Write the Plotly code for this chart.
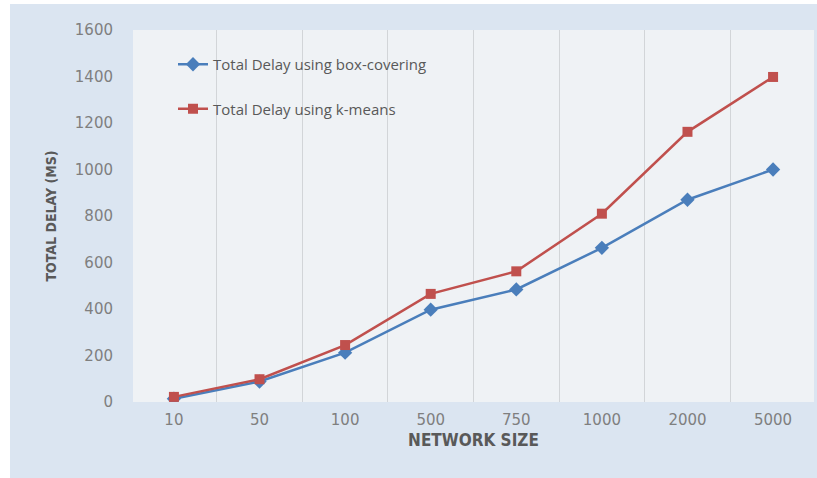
import plotly.graph_objects as go

# Network sizes (categorical x axis) and measured total delays in ms
network_sizes = ["10", "50", "100", "500", "750", "1000", "2000", "5000"]
delay_box_covering = [14, 88, 212, 397, 484, 663, 870, 1000]
delay_k_means = [22, 98, 245, 465, 562, 810, 1162, 1398]
y_ticks = [0, 200, 400, 600, 800, 1000, 1200, 1400, 1600]

W, H = 817, 478
L, R, T, B = 133, 3, 30, 76

BLUE = "#4a7ebb"
RED = "#c0504d"
CARD = "#dbe5f1"
TICK_GRAY = "#7f7f7f"
TITLE_GRAY = "#595959"
NARROW = "Liberation Sans Narrow, DejaVu Sans Condensed, Arial Narrow, sans-serif"

fig = go.Figure()
fig.add_trace(go.Scatter(
    x=network_sizes, y=delay_box_covering, mode="lines+markers",
    name="Total Delay using box-covering", legendgroup="box",
    line=dict(color=BLUE, width=2.5),
    marker=dict(symbol="diamond", size=11, color=BLUE),
))
fig.add_trace(go.Scatter(
    x=network_sizes, y=delay_k_means, mode="lines+markers",
    name="Total Delay using k-means", legendgroup="kmeans",
    line=dict(color=RED, width=2.5),
    marker=dict(symbol="square", size=10, color=RED),
))

# white margins around the light blue card (left strip and top strip)
pw, ph = W - L - R, H - T - B
fig.add_shape(type="rect", xref="paper", yref="paper", layer="below",
              x0=-L / pw, x1=(10 - L) / pw, y0=-B / ph, y1=(H - B) / ph,
              fillcolor="white", line=dict(width=0))
fig.add_shape(type="rect", xref="paper", yref="paper", layer="below",
              x0=-L / pw, x1=(W - L) / pw, y0=(H - B - 4) / ph, y1=(H - B) / ph,
              fillcolor="white", line=dict(width=0))

fig.update_layout(
    width=W, height=H,
    margin=dict(l=L, r=R, t=T, b=B, pad=0),
    paper_bgcolor=CARD,
    plot_bgcolor="#eff2f5",
    showlegend=True,
    legend=dict(
        x=(173 - L) / pw, xanchor="left",
        y=1 - (48 - T) / ph, yanchor="top",
        bgcolor="rgba(0,0,0,0)",
        font=dict(family="Open Sans, sans-serif", size=15, color=TITLE_GRAY),
        tracegroupgap=22,
        itemwidth=30,
    ),
    xaxis=dict(
        type="category",
        tickson="boundaries",
        showgrid=True, gridcolor="#d2d5d8", gridwidth=1,
        showline=False, zeroline=False, ticks="",
        tickfont=dict(family="DejaVu Sans, sans-serif", size=15, color=TICK_GRAY),
        ticklabelstandoff=7,
        title=dict(text="<b>NETWORK SIZE</b>",
                   font=dict(family=NARROW, size=17, color=TITLE_GRAY),
                   standoff=6),
    ),
    yaxis=dict(
        range=[0, 1600],
        tickvals=y_ticks,
        showgrid=False, zeroline=False, showline=False, ticks="",
        tickfont=dict(family="DejaVu Sans, sans-serif", size=15, color=TICK_GRAY),
        ticklabelstandoff=19,
        title=dict(text="<b>TOTAL DELAY (MS)</b>",
                   font=dict(family=NARROW, size=14, color=TITLE_GRAY),
                   standoff=14),
    ),
)

fig.write_html("out.html")
